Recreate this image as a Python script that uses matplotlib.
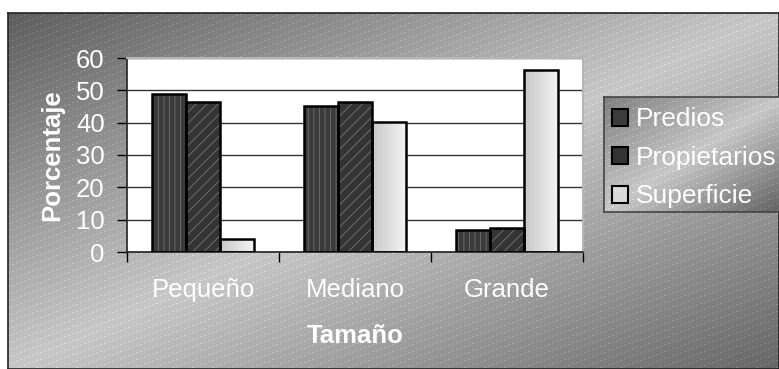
import numpy as np
import matplotlib
matplotlib.use("Agg")
import matplotlib.pyplot as plt
from matplotlib.patches import Patch

plt.rcParams['font.family'] = ['Liberation Sans', 'DejaVu Sans']
plt.rcParams['hatch.linewidth'] = 0.7

categorias = ["Pequeño", "Mediano", "Grande"]
series = ["Predios", "Propietarios", "Superficie"]
predios = [48.9, 45.2, 6.8]
propietarios = [46.5, 46.5, 7.5]
superficie = [3.9, 40.1, 56.3]
yticks = [0, 10, 20, 30, 40, 50, 60]

W, H = 779, 369
fig = plt.figure(figsize=(W / 100, H / 100), dpi=100)
fig.patch.set_facecolor("white")


def striped_gradient(w, h, dark_tl, light, dark_br):
    yy, xx = np.mgrid[0:h, 0:w]
    t = (xx / w + yy / h) / 2.0
    v = np.where(t < 0.5, dark_tl + (light - dark_tl) * (t / 0.5),
                 light + (dark_br - light) * ((t - 0.5) / 0.5))
    stripe = ((yy + 0.36 * xx) % 7 < 1.0) & (xx % 4 < 2)
    v = np.where(stripe, np.clip(v + 0.10, 0, 1), v)
    return np.dstack([v, v, v])


# chart area background
bx0, by0 = 8, 13
bg = fig.add_axes([bx0 / W, 0, (W - bx0) / W, (H - by0) / H], zorder=-10)
bg.imshow(striped_gradient(W - bx0, H - by0, 0.37, 0.78, 0.40),
          aspect="auto", interpolation="nearest")
bg.set_xticks([])
bg.set_yticks([])
for s in bg.spines.values():
    s.set_color("#222222")
    s.set_linewidth(1.2)

# plot area
ax = fig.add_axes([127 / W, (H - 252) / H, 456 / W, 194 / H])
ax.set_facecolor("white")
x = np.arange(len(categorias))
bw = 0.224

ax.set_axisbelow(True)
ax.yaxis.grid(True, color="#333333", linewidth=1)

estilos = [
    (predios, -bw, "#3b3b3b", "|||", "#6a6a6a"),
    (propietarios, 0, "#343434", "///", "#6e6e6e"),
]
for vals, off, fc, hatch, hc in estilos:
    ax.bar(x + off, vals, bw, color=fc, hatch=hatch, edgecolor=hc,
           linewidth=0, zorder=2)
    ax.bar(x + off, vals, bw, fill=False, edgecolor="black",
           linewidth=1.8, zorder=3)

# light bars with a soft horizontal gradient
sup = ax.bar(x + bw, superficie, bw, color="#dddddd", linewidth=0, zorder=2)
grad = np.linspace(0.78, 0.96, 64)[None, :]
for b in sup:
    im = ax.imshow(grad, cmap="gray", vmin=0, vmax=1, aspect="auto",
                   extent=[b.get_x(), b.get_x() + b.get_width(), 0, b.get_height()],
                   zorder=2.5, interpolation="bilinear")
    im.set_clip_path(b)
ax.bar(x + bw, superficie, bw, fill=False, edgecolor="black",
       linewidth=1.8, zorder=3)

ax.set_xlim(-0.5, 2.5)
ax.set_ylim(0, 60)
ax.set_yticks(yticks)
ax.set_xticks([-0.5, 0.5, 1.5, 2.5])
ax.set_xticklabels([])
ax.set_xticks(x, minor=True)
ax.set_xticklabels(categorias, minor=True)
ax.tick_params(axis="x", which="major", direction="out", length=7, width=1)
ax.tick_params(axis="x", which="minor", length=0, pad=19, labelsize=18.5,
               labelcolor="white")
ax.tick_params(axis="y", direction="out", length=7, width=1, pad=9,
               labelsize=18.5, labelcolor="white")

for side in ("left", "bottom"):
    ax.spines[side].set_color("#222222")
    ax.spines[side].set_linewidth(1.2)
for side in ("top", "right"):
    ax.spines[side].set_color("#b5b5b5")
    ax.spines[side].set_linewidth(1.5)

ax.set_ylabel("Porcentaje", fontsize=18.5, fontweight="bold", color="white")
ax.yaxis.set_label_coords(-0.138, 0.5)
ax.set_xlabel("Tamaño", fontsize=18.5, fontweight="bold", color="white")
ax.xaxis.set_label_coords(0.5, -0.37)

# legend box
lx0, ly0, lx1, ly1 = 604, 97, 781, 212
lg = fig.add_axes([lx0 / W, (H - ly1) / H, (lx1 - lx0) / W, (ly1 - ly0) / H])
lg.imshow(striped_gradient(lx1 - lx0, ly1 - ly0, 0.50, 0.78, 0.38),
          aspect="auto", interpolation="nearest")
lg.set_xticks([])
lg.set_yticks([])
for s in lg.spines.values():
    s.set_color("#444444")
    s.set_linewidth(1.2)

handles = [
    Patch(facecolor="#3b3b3b", edgecolor="black", linewidth=1.5),
    Patch(facecolor="#343434", edgecolor="black", linewidth=1.5),
    Patch(facecolor="#dadada", edgecolor="black", linewidth=1.5),
]
lg.legend(handles, series, loc="center left", bbox_to_anchor=(0.0, 0.47),
          frameon=False, fontsize=19, labelcolor="white",
          handlelength=0.62, handleheight=0.62, handletextpad=0.3,
          labelspacing=0.55, borderpad=0.3, borderaxespad=0.0)

fig.savefig("out.png", dpi=100)
